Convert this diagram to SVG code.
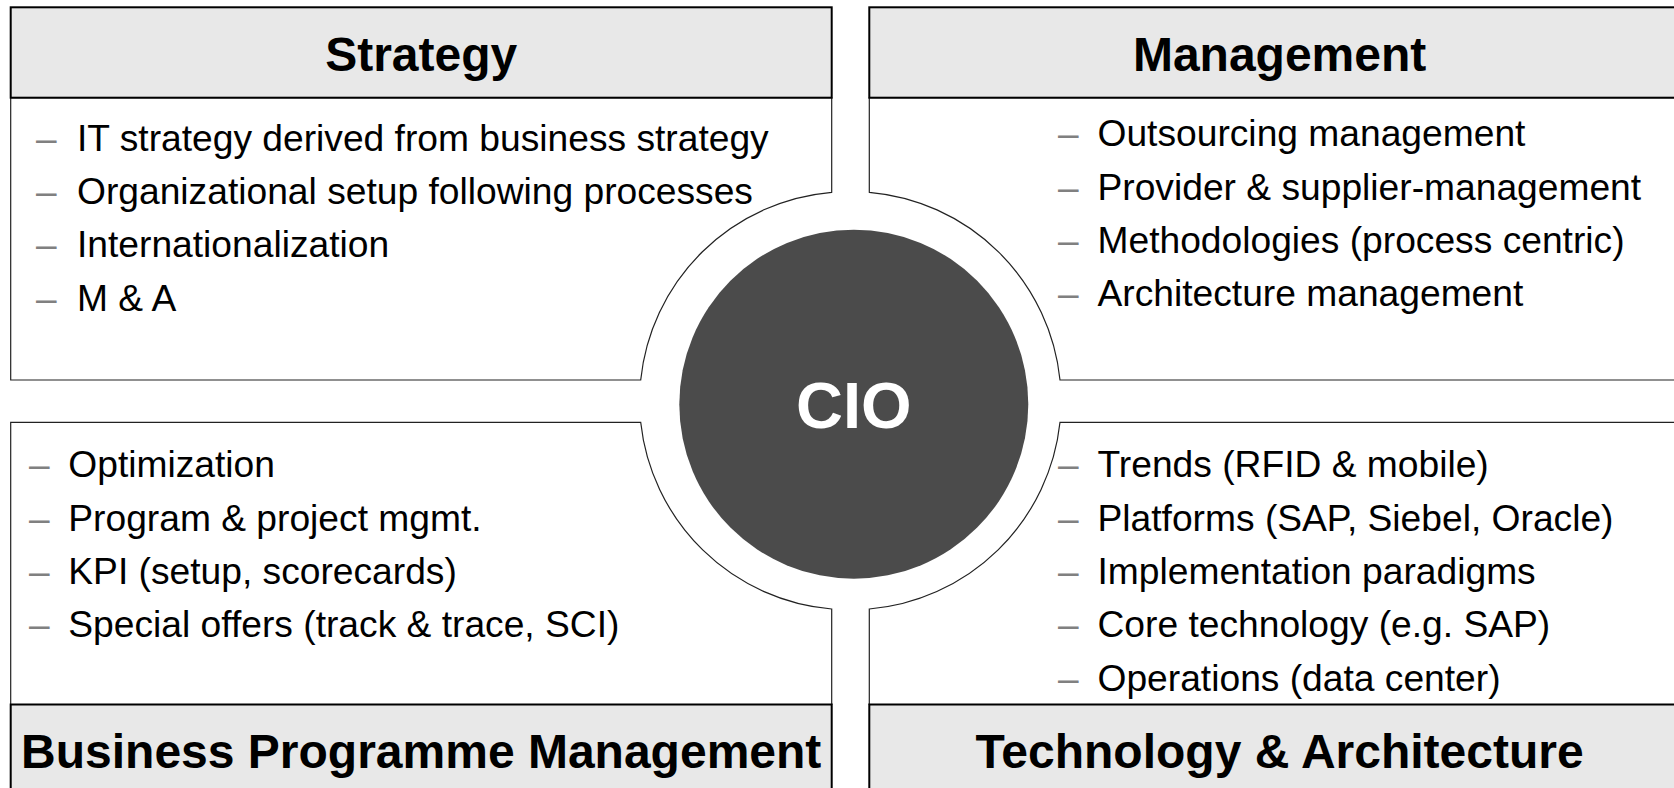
<svg xmlns="http://www.w3.org/2000/svg" width="1674" height="788" viewBox="0 0 1674 788">
<style>
.body{fill:#ffffff;stroke:#222222;stroke-width:1.2}
.head{fill:#e8e8e8;stroke:#000000;stroke-width:2}
.ht{font-family:"Liberation Sans",Arial,sans-serif;font-weight:bold;font-size:48px;fill:#000000;text-anchor:middle}
.bt{font-family:"Liberation Sans",Arial,sans-serif;font-size:37.2px;fill:#000000}
.dash{font-family:"Liberation Sans",Arial,sans-serif;font-size:37px;fill:#808080}
.cio{font-family:"Liberation Sans",Arial,sans-serif;font-weight:bold;font-size:65px;fill:#ffffff;text-anchor:middle}
</style>
<rect width="1674" height="788" fill="#ffffff"/>
<g id="strategy">
<path class="body" d="M10.7 97.7 H831.7 V192.3 A210 210 0 0 0 640.7 380 H10.7 Z"/>
<rect class="head" x="10.7" y="7.3" width="821" height="90.4"/>
<text class="ht" x="421.2" y="71">Strategy</text>
<text class="dash" x="36" y="150.5">–</text><text class="bt" x="77" y="150.5">IT strategy derived from business strategy</text>
<text class="dash" x="36" y="203.9">–</text><text class="bt" x="77" y="203.9">Organizational setup following processes</text>
<text class="dash" x="36" y="257.3">–</text><text class="bt" x="77" y="257.3">Internationalization</text>
<text class="dash" x="36" y="310.7">–</text><text class="bt" x="77" y="310.7">M &amp; A</text>
</g>
<g id="management">
<path class="body" d="M869.3 97.7 H1690 V380 H1060 A210 210 0 0 0 869.3 192.3 Z"/>
<rect class="head" x="869.3" y="7.3" width="821" height="90.4"/>
<text class="ht" x="1279.6" y="71">Management</text>
<text class="dash" x="1058" y="146.2">–</text><text class="bt" x="1097.5" y="146.2">Outsourcing management</text>
<text class="dash" x="1058" y="199.6">–</text><text class="bt" x="1097.5" y="199.6">Provider &amp; supplier-management</text>
<text class="dash" x="1058" y="253">–</text><text class="bt" x="1097.5" y="253">Methodologies (process centric)</text>
<text class="dash" x="1058" y="306.4">–</text><text class="bt" x="1097.5" y="306.4">Architecture management</text>
</g>
<g id="business">
<path class="body" d="M10.7 422.3 H640.7 A210 210 0 0 0 831.7 609 V704.5 H10.7 Z"/>
<rect class="head" x="10.7" y="704.5" width="821" height="92"/>
<text class="ht" x="421.2" y="768">Business Programme Management</text>
<text class="dash" x="29" y="477">–</text><text class="bt" x="68.3" y="477">Optimization</text>
<text class="dash" x="29" y="530.5">–</text><text class="bt" x="68.3" y="530.5">Program &amp; project mgmt.</text>
<text class="dash" x="29" y="584">–</text><text class="bt" x="68.3" y="584">KPI (setup, scorecards)</text>
<text class="dash" x="29" y="637.3">–</text><text class="bt" x="68.3" y="637.3">Special offers (track &amp; trace, SCI)</text>
</g>
<g id="technology">
<path class="body" d="M1060 422.3 H1690 V704.5 H869.3 V609 A210 210 0 0 0 1060 422.3 Z"/>
<rect class="head" x="869.3" y="704.5" width="821" height="92"/>
<text class="ht" x="1279.6" y="768">Technology &amp; Architecture</text>
<text class="dash" x="1058" y="477">–</text><text class="bt" x="1097.5" y="477">Trends (RFID &amp; mobile)</text>
<text class="dash" x="1058" y="530.5">–</text><text class="bt" x="1097.5" y="530.5">Platforms (SAP, Siebel, Oracle)</text>
<text class="dash" x="1058" y="584">–</text><text class="bt" x="1097.5" y="584">Implementation paradigms</text>
<text class="dash" x="1058" y="637.3">–</text><text class="bt" x="1097.5" y="637.3">Core technology (e.g. SAP)</text>
<text class="dash" x="1058" y="690.7">–</text><text class="bt" x="1097.5" y="690.7">Operations (data center)</text>
</g>
<g id="cio">
<circle cx="853.8" cy="404.2" r="174.5" fill="#4b4b4b"/>
<text class="cio" x="853.8" y="428">CIO</text>
</g>
<g id="connectors"></g>
</svg>
